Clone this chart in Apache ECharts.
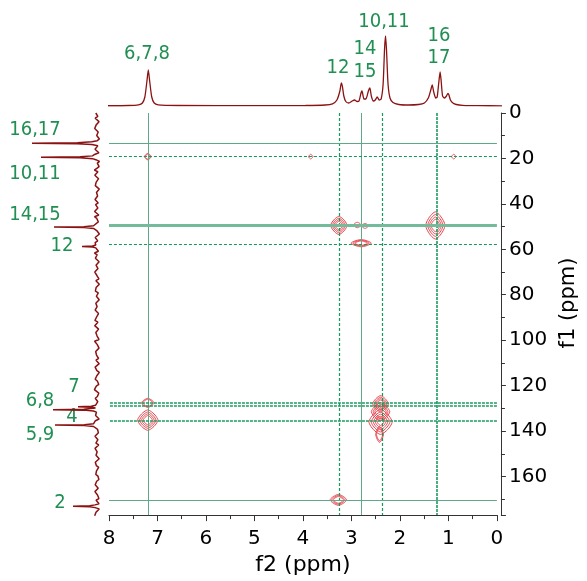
<!DOCTYPE html>
<html>
<head>
<meta charset="utf-8">
<script src="https://cdn.jsdelivr.net/npm/echarts@6/dist/echarts.min.js"></script>
<style>
  html, body { margin: 0; padding: 0; background: #fff; }
  #chart { width: 587px; height: 581px; }
</style>
</head>
<body>
<div id="chart"></div>
<script>
// 1D proton trace on top (ppm, height above baseline)
const topPpm = [8.1, 7.6, 7.4, 7.32, 7.27, 7.23, 7.2, 7.17, 7.13, 7.08,
  7.0, 6.6, 5.0, 4.0, 3.6, 3.45, 3.36, 3.3, 3.27, 3.25,
  3.22, 3.18, 3.12, 3.05, 3.0, 2.95, 2.91, 2.87, 2.85, 2.81,
  2.77, 2.72, 2.69, 2.66, 2.62, 2.58, 2.54, 2.5, 2.46, 2.42,
  2.39, 2.37, 2.35, 2.32, 2.28, 2.22, 2.1, 1.9, 1.7, 1.58,
  1.5, 1.45, 1.42, 1.39, 1.35, 1.32, 1.29, 1.26, 1.24, 1.21,
  1.17, 1.13, 1.1, 1.08, 1.05, 1.0, 0.93, 0.8, 0.5, 0.0];
const topHeight = [0.2, 0.5, 1.2, 3, 9, 24, 36, 24, 9, 3,
  1.2, 0.5, 0.3, 0.5, 1.0, 2.2, 6, 15, 23, 20,
  10, 4.5, 3, 5, 6, 4.5, 5, 13, 15, 7,
  7, 15, 18, 10, 5, 6, 9, 6, 7, 22,
  58, 70, 55, 22, 8, 3.5, 1.5, 1, 1.5, 3,
  8, 16, 21, 14, 8, 9, 22, 34, 26, 10,
  8, 10, 12.7, 11, 6, 3, 1.5, 0.7, 0.3, 0.2];

// 13C projection on the left: spikes and baseline noise
// (projNoiseA sits on 0, 1.5, 3 ... ppm, projNoiseB half a step later)
const projPeakPpm = [13.1, 19.2, 49.5, 57.9, 127.4, 128.7, 135.4, 170.6];
const projPeakLen = [65, 56, 43, 15, 19, 44, 42, 24];
const projNoiseA = [
  1.2, -0.8, 2.1, -1.5, 0.4, 2.6, -2.2, 1.0, -0.3, 1.9,
  -1.7, 0.6, 2.4, -1.1, -2.5, 1.3, 0.2, -0.9, 2.2, -1.6,
  0.8, 1.7, -2.3, 0.5, -0.6, 2.0, -1.2, 1.1, -2.0, 0.9,
  2.5, -0.4, -1.8, 1.5, 0.3, -2.4, 1.8, -0.7, 0.7, 2.3,
  -1.4, -0.2, 1.6, -2.1, 1.0, -1.0, 2.2, 0.1, -1.9, 1.4,
  -0.5, 2.7, -1.3, 0.6, -2.2, 1.2, -0.1, 1.9, -1.5, 0.4,
  2.1, -2.6, 0.9, -0.8, 1.7, -1.1, 2.4, -0.3, -2.0, 1.3,
  0.5, -1.6, 2.0, -0.9, 1.1, -2.3, 0.2, 1.8, -1.2, 0.7,
  2.6, -1.8, -0.4, 1.5, -1.0, 2.2, -2.1, 0.8, 0.0, 1.6,
  -1.4, 2.3, -0.6, -2.4, 1.2, 0.3, -1.7, 2.0, -0.2, 1.0,
  -2.2, 1.7, 0.6, -1.3, 2.5, -0.9, -1.9, 1.4, 0.1, -0.7,
  2.1, -1.5, 0.9, -2.0, 1.3, -0.5, 2.4, -1.1, 1.8, -0.6];
const projNoiseB = [
  -0.6, 1.8, -2.0, 0.9, 2.3, -1.2, 0.3, -2.4, 1.5, -0.8,
  2.0, -1.9, 0.4, 1.2, -0.3, -2.1, 2.6, -0.7, 1.0, -1.5,
  -0.2, 2.2, -1.0, 1.7, -2.5, 0.6, 1.4, -0.9, 2.4, -1.8,
  0.2, -1.3, 2.1, -0.5, 1.6, -2.2, 0.8, 1.9, -1.1, 0.0,
  2.5, -2.0, 0.7, -0.6, 1.3, -1.7, 2.2, -0.4, 1.1, -2.3,
  0.9, 1.6, -1.4, 0.3, -2.6, 1.8, -0.2, 2.0, -1.2, 0.5,
  -0.9, 2.3, -1.6, 1.2, -0.1, -2.0, 1.5, 0.6, -1.3, 2.4,
  -0.7, 1.0, -2.2, 1.9, 0.1, -1.5, 2.1, -0.3, -1.8, 1.3,
  0.4, -2.4, 1.7, -0.8, 2.2, -1.1, 0.6, 1.4, -2.1, 0.2,
  1.9, -0.6, -1.4, 2.0, -0.9, 1.1, -2.3, 0.8, 1.6, -1.0,
  -0.4, 2.5, -1.7, 0.5, 1.2, -2.0, 0.3, 1.8, -1.2, 2.1,
  -0.5, -1.9, 1.4, 0.7, -2.2, 1.0, 2.3, -0.8, -1.6, 0.9];
const noiseStep = 1.5;

// guide lines through the assigned shifts
const f2Lines = [7.2, 3.26, 2.8, 2.37, 1.25];
const f1Lines = [13.1, 19.2, 49.5, 57.9, 127.4, 128.7, 135.4, 170.6];

// HSQC cross peaks: f2, f1, outer half-width f2, outer half-width f1 (ppm), contour count
const crossF2 = [7.2, 3.84, 0.89, 3.26, 2.88, 2.72, 2.8, 1.27, 7.2, 7.2, 2.40, 2.40, 2.40, 2.42, 3.27];
const crossF1 = [19.2, 19.2, 19.2, 49.5, 49.3, 49.7, 57.3, 49.5, 127.6, 135.2, 128.0, 131.5, 136.0, 141.5, 170.3];
const crossW2 = [0.07, 0.045, 0.045, 0.17, 0.08, 0.07, 0.21, 0.2, 0.13, 0.21, 0.16, 0.19, 0.24, 0.08, 0.17];
const crossW1 = [1.4, 1.0, 1.0, 4.0, 1.2, 1.1, 1.6, 6.0, 2.0, 4.5, 3.6, 4.0, 5.5, 3.5, 2.4];
const crossRings = [2, 1, 1, 4, 1, 1, 3, 4, 2, 4, 4, 3, 5, 2, 3];

const topLabels = ['6,7,8', '12', '14', '15', '10,11', '16', '17'];
const leftLabels = ['16,17', '10,11', '14,15', '12', '7', '6,8', '4', '5,9', '2'];

// ---- styling / layout ----
const FONT = '"DejaVu Sans", Verdana, sans-serif';
const LABEL_FONT = '"Liberation Sans Narrow", "DejaVu Sans Condensed", "DejaVu Sans", sans-serif';
const GREEN_TEXT = '#1f8f52';
const TRACE = '#8a1212';
const CONTOUR = '#e6424b';

const thin = { color: '#5fa888', width: 1, type: 'solid', opacity: 1 };
const dashed = { color: '#159a5c', width: 1.2, type: [3, 2], opacity: 1 };
const dashedBold = { color: '#1d9a60', width: 1.6, type: [3, 1], opacity: 1 };
const thick = { color: '#74bb9b', width: 3, type: 'solid', opacity: 1 };
const f2LineStyles = [thin, dashed, thin, dashed, dashedBold];
const f1LineStyles = [thin, dashed, thick, dashed, dashedBold, dashedBold, dashedBold, thin];

const topLabelPos = [[147, 54], [338, 68], [365, 49], [365, 72], [384, 22], [439, 36], [439, 58]];
const leftLabelPos = [[35, 130], [35, 174], [35, 215], [62, 246], [74, 387], [40, 401], [72, 417], [40, 435], [60, 503]];

const chart = echarts.init(document.getElementById('chart'));

const topData = topPpm.map((p, i) => [p, topHeight[i]]);

const BASE = 5;
const projData = [];
function addNoise(arr, shift) {
  arr.forEach((n, i) => {
    const p = i * noiseStep + shift;
    if (p > 175) return;
    if (projPeakPpm.some(q => Math.abs(q - p) < 0.9)) return;
    projData.push([BASE + n, p]);
  });
}
addNoise(projNoiseA, 0);
addNoise(projNoiseB, noiseStep / 2);
projPeakPpm.forEach((p, i) => {
  const len = projPeakLen[i];
  projData.push([BASE + 0.08 * len, p - 0.6]);
  projData.push([BASE + 0.3 * len, p - 0.2]);
  projData.push([BASE + len, p]);
  projData.push([BASE + 0.3 * len, p + 0.2]);
  projData.push([BASE + 0.08 * len, p + 0.6]);
});
projData.sort((a, b) => a[1] - b[1]);

const crossData = crossF2.map((x, i) => [x, crossF1[i], crossW2[i], crossW1[i], crossRings[i]]);
const ringFrac = [1, 0.8, 0.62, 0.45, 0.28];

function renderContour(params, api) {
  const c = api.coord([api.value(0), api.value(1)]);
  const s = api.size([api.value(2), api.value(3)]);
  const rx = Math.abs(s[0]), ry = Math.abs(s[1]);
  const rings = api.value(4);
  const children = [];
  const pw = 1.4;
  for (let k = 0; k < rings; k++) {
    const f = ringFrac[k];
    const pts = [];
    for (let i = 0; i < 48; i++) {
      const t = (i / 48) * Math.PI * 2;
      const ct = Math.cos(t), st = Math.sin(t);
      const x = Math.sign(ct) * Math.pow(Math.abs(ct), 2 / pw);
      const y = Math.sign(st) * Math.pow(Math.abs(st), 2 / pw);
      pts.push([c[0] + x * rx * f, c[1] + y * ry * f]);
    }
    children.push({
      type: 'polygon',
      shape: { points: pts },
      style: { fill: 'none', stroke: CONTOUR, lineWidth: 1 }
    });
  }
  return { type: 'group', children: children };
}

const markLines = f2Lines.map((v, i) => ({ xAxis: v, lineStyle: f2LineStyles[i] }))
  .concat(f1Lines.map((v, i) => ({ yAxis: v, lineStyle: f1LineStyles[i] })));

function labelText(t, pos) {
  return {
    type: 'text', x: pos[0], y: pos[1],
    style: { text: t, fill: GREEN_TEXT, font: '20px ' + LABEL_FONT, textAlign: 'center', textVerticalAlign: 'middle' }
  };
}
const graphics = topLabels.map((t, i) => labelText(t, topLabelPos[i]))
  .concat(leftLabels.map((t, i) => labelText(t, leftLabelPos[i])));

const axisColor = '#333';

const option = {
  animation: false,
  backgroundColor: '#fff',
  grid: [
    { left: 109, top: 113, width: 393, height: 408 },
    { left: 109, top: 30, width: 393, height: 76 },
    { left: 22, top: 113, width: 80, height: 408 }
  ],
  xAxis: [
    {
      gridIndex: 0, type: 'value', min: 0, max: 8, interval: 1, inverse: true,
      axisLine: { show: true, onZero: false, lineStyle: { color: axisColor, width: 1 } },
      axisTick: { show: true, length: 6, lineStyle: { color: axisColor } },
      minorTick: { show: true, splitNumber: 2, length: 4, lineStyle: { color: axisColor } },
      splitLine: { show: false },
      axisLabel: { fontSize: 20, color: '#000', margin: 14, fontFamily: FONT },
      name: 'f2 (ppm)', nameLocation: 'middle', nameGap: 37,
      nameTextStyle: { fontSize: 22, color: '#000', fontFamily: FONT }
    },
    { gridIndex: 1, type: 'value', min: 0, max: 8, inverse: true, show: false },
    { gridIndex: 2, type: 'value', min: 0, max: 80, inverse: true, show: false }
  ],
  yAxis: [
    {
      gridIndex: 0, type: 'value', min: 0, max: 177, interval: 20, inverse: true,
      position: 'right', offset: 4,
      axisLine: { show: true, onZero: false, lineStyle: { color: axisColor, width: 1 } },
      axisTick: { show: true, length: 5, lineStyle: { color: axisColor } },
      minorTick: { show: true, splitNumber: 2, length: 4, lineStyle: { color: axisColor } },
      splitLine: { show: false },
      axisLabel: {
        fontSize: 20, color: '#000', margin: 8, fontFamily: FONT,
        formatter: v => (v % 20 === 0 ? String(v) : '')
      },
      name: 'f1 (ppm)', nameLocation: 'middle', nameGap: 53, nameRotate: 90,
      nameTextStyle: { fontSize: 21, color: '#000', fontFamily: FONT, padding: [0, 0, 0, 22] }
    },
    { gridIndex: 1, type: 'value', min: 0, max: 76, show: false },
    { gridIndex: 2, type: 'value', min: 0, max: 177, inverse: true, show: false }
  ],
  series: [
    {
      name: 'guides', type: 'line', xAxisIndex: 0, yAxisIndex: 0, data: [],
      z: 1,
      markLine: { silent: true, symbol: ['none', 'none'], label: { show: false }, data: markLines }
    },
    {
      name: 'cross', type: 'custom', xAxisIndex: 0, yAxisIndex: 0,
      renderItem: renderContour, data: crossData, z: 3, clip: true
    },
    {
      name: '1H', type: 'line', xAxisIndex: 1, yAxisIndex: 1, data: topData,
      showSymbol: false, smooth: 0.2, lineStyle: { color: TRACE, width: 1.3 }
    },
    {
      name: '13C', type: 'line', xAxisIndex: 2, yAxisIndex: 2, data: projData,
      showSymbol: false, lineStyle: { color: TRACE, width: 1.5 }
    }
  ],
  graphic: graphics
};

chart.setOption(option);
</script>
</body>
</html>
